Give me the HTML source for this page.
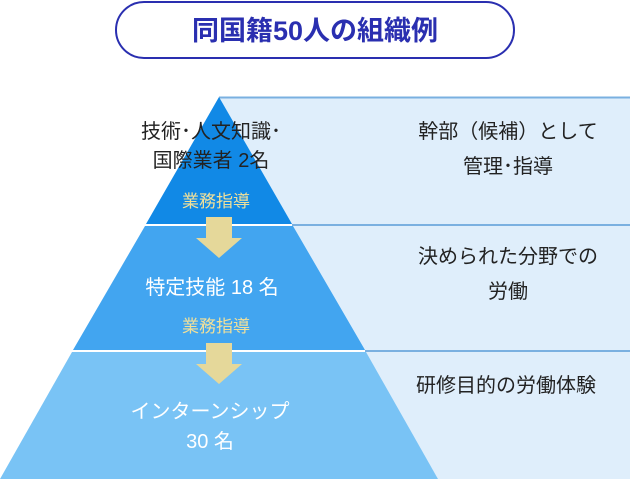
<!DOCTYPE html>
<html><head><meta charset="utf-8"><style>
body{margin:0;width:630px;height:479px;background:#fff;overflow:hidden;font-family:"Liberation Sans","Noto Sans CJK JP",sans-serif}
svg{display:block}
text{font-family:"Liberation Sans","Noto Sans CJK JP",sans-serif}
</style></head><body>
<svg width="630" height="479" viewBox="0 0 630 479">
<polygon points="219,97 630,97 630,479 438,479" fill="#dfeefb"/>
<line x1="219" y1="97.5" x2="630" y2="97.5" stroke="#7ab0e0" stroke-width="2"/>
<line x1="290" y1="225" x2="630" y2="225" stroke="#7ab0e0" stroke-width="2"/>
<line x1="365" y1="351" x2="630" y2="351" stroke="#7ab0e0" stroke-width="2"/>
<polygon points="219,97 292,224 146,224" fill="#1189e6"/>
<polygon points="145,226 293,226 365,350 73,350" fill="#42a5f0"/>
<polygon points="72,352 366,352 438,479 0,479" fill="#79c3f5"/>
<line x1="146" y1="225" x2="292" y2="225" stroke="#fff" stroke-width="2"/>
<line x1="73" y1="351" x2="365" y2="351" stroke="#fff" stroke-width="2"/>
<polygon points="206,217 232,217 232,238 242,238 219,258 196,238 206,238" fill="#e5d89a"/>
<polygon points="206,343 232,343 232,364 242,364 219,384 196,364 206,364" fill="#e5d89a"/>
<rect x="116" y="2" width="398" height="56" rx="28" fill="#fff" stroke="#2a2fb0" stroke-width="2"/>
<text x="315" y="40" font-size="27" font-weight="bold" fill="#2a2fb0" text-anchor="middle">同国籍50人の組織例</text>
<g font-size="20" fill="#222" text-anchor="middle">
<text x="211" y="138">技術･人文知識･</text>
<text x="211" y="167">国際業者 2名</text>
<text x="212" y="294" fill="#fff">特定技能 18 名</text>
<text x="210" y="418" fill="#fff">インターンシップ</text>
<text x="210" y="448" fill="#fff">30 名</text>
<text x="508" y="138">幹部（候補）として</text>
<text x="508" y="173">管理･指導</text>
<text x="508" y="263">決められた分野での</text>
<text x="508" y="298">労働</text>
<text x="506" y="392">研修目的の労働体験</text>
</g>
<g font-size="17" fill="#f0e09a" text-anchor="middle">
<text x="216" y="207">業務指導</text>
<text x="216" y="332">業務指導</text>
</g>
</svg>
</body></html>
